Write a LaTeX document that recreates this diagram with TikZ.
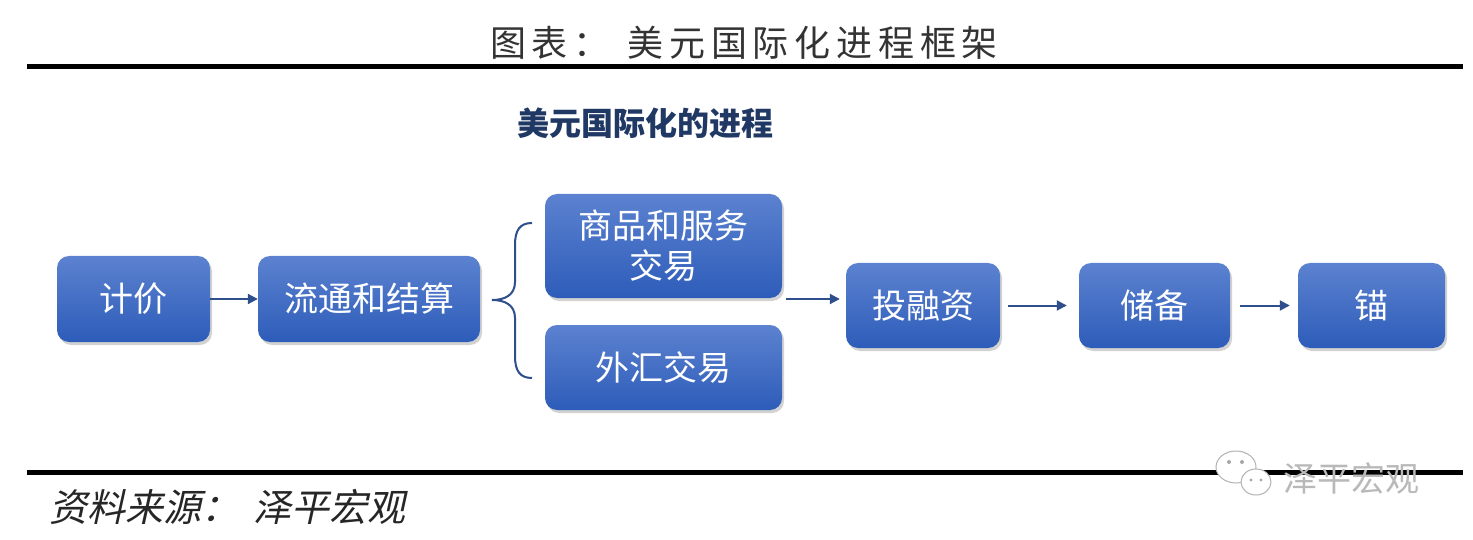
\documentclass[tikz,border=0pt]{standalone}
\usepackage{fontspec}
\setmainfont{Noto Sans CJK SC}
\newfontfamily\titlecjk[LetterSpace=16]{Noto Sans CJK SC}
\newfontfamily\slantcjk[FakeSlant=0.22]{Noto Sans CJK SC}
\usetikzlibrary{arrows.meta,shadows}

\definecolor{boxtop}{RGB}{92,130,208}
\definecolor{boxbot}{RGB}{45,92,185}
\definecolor{arrowblue}{RGB}{47,79,140}
\definecolor{headblue}{RGB}{31,56,100}

\tikzset{
  stage/.style={rectangle, rounded corners=12pt, top color=boxtop, bottom color=boxbot,
    text=white, font=\fontsize{34}{40}\selectfont, align=center, inner sep=0pt,
    drop shadow={shadow xshift=2pt, shadow yshift=-3pt, opacity=0.35}},
  flow/.style={draw=arrowblue, line width=2pt, -{Triangle[length=10pt,width=10pt]}}
}

\begin{document}
\begin{tikzpicture}[x=1pt, y=-1pt]
  \fill[white] (0,0) rectangle (1473,540);
  \useasboundingbox (0,0) rectangle (1473,540);
  % Title and rules
  \node[text=black!80, font=\titlecjk\fontsize{36}{40}\selectfont] (title) at (744,43) {图表：\hspace{18pt}美元国际化进程框架};
  \draw[line width=5pt] (27,67) -- (1463,67);
  \draw[line width=5pt] (27,472) -- (1463,472);
  \node[text=headblue, font=\bfseries\fontsize{32}{36}\selectfont] (heading) at (645,123) {美元国际化的进程};
  % Stages
  \node[stage, minimum width=153, minimum height=86] (pricing) at (133.5,299) {计价};
  \node[stage, minimum width=222, minimum height=86] (circulation) at (369,299) {流通和结算};
  \node[stage, minimum width=237, minimum height=104] (goods) at (663.5,246) {商品和服务\\交易};
  \node[stage, minimum width=237, minimum height=85] (forex) at (663.5,367.5) {外汇交易};
  \node[stage, minimum width=154, minimum height=85] (invest) at (923,305.5) {投融资};
  \node[stage, minimum width=151, minimum height=85] (reserve) at (1154.5,305.5) {储备};
  \node[stage, minimum width=147, minimum height=85] (anchor) at (1371.5,305.5) {锚};
  % Draw the flow
  \coordinate (fork) at (786,299);
  \draw[flow] (pricing) -- (circulation);
  \draw[flow, shorten >=6pt] (fork) -- (fork -| invest.west);
  \draw[flow, shorten <=8pt, shorten >=12pt] (invest) -- (reserve);
  \draw[flow, shorten <=10pt, shorten >=8pt] (reserve) -- (anchor);
  % Brace
  \draw[arrowblue, line width=2pt] (532,223) .. controls (520,223) and (515,230) .. (515,245)
    -- (515,282) .. controls (515,295) and (505,300) .. (492,300)
    .. controls (505,300) and (515,305) .. (515,318) -- (515,356)
    .. controls (515,371) and (520,378) .. (532,378);
  % Source and watermark
  \node[anchor=west, text=black!85, font=\slantcjk\fontsize{38}{42}\selectfont] (source) at (46,507) {资料来源：\hspace{14pt}泽平宏观};
  \draw[gray!60, fill=white, line width=1pt] (1236,467) ellipse (20 and 16);
  \draw[gray!60, fill=white, line width=1pt] (1256,482) ellipse (15 and 13);
  \fill[gray!70] (1229,462) circle (2) (1242,462) circle (2) (1251,480) circle (1.6) (1261,480) circle (1.6);
  \node[anchor=west, text=gray!55, font=\fontsize{34}{36}\selectfont] (mark) at (1280,478) {泽平宏观};
\end{tikzpicture}
\end{document}
